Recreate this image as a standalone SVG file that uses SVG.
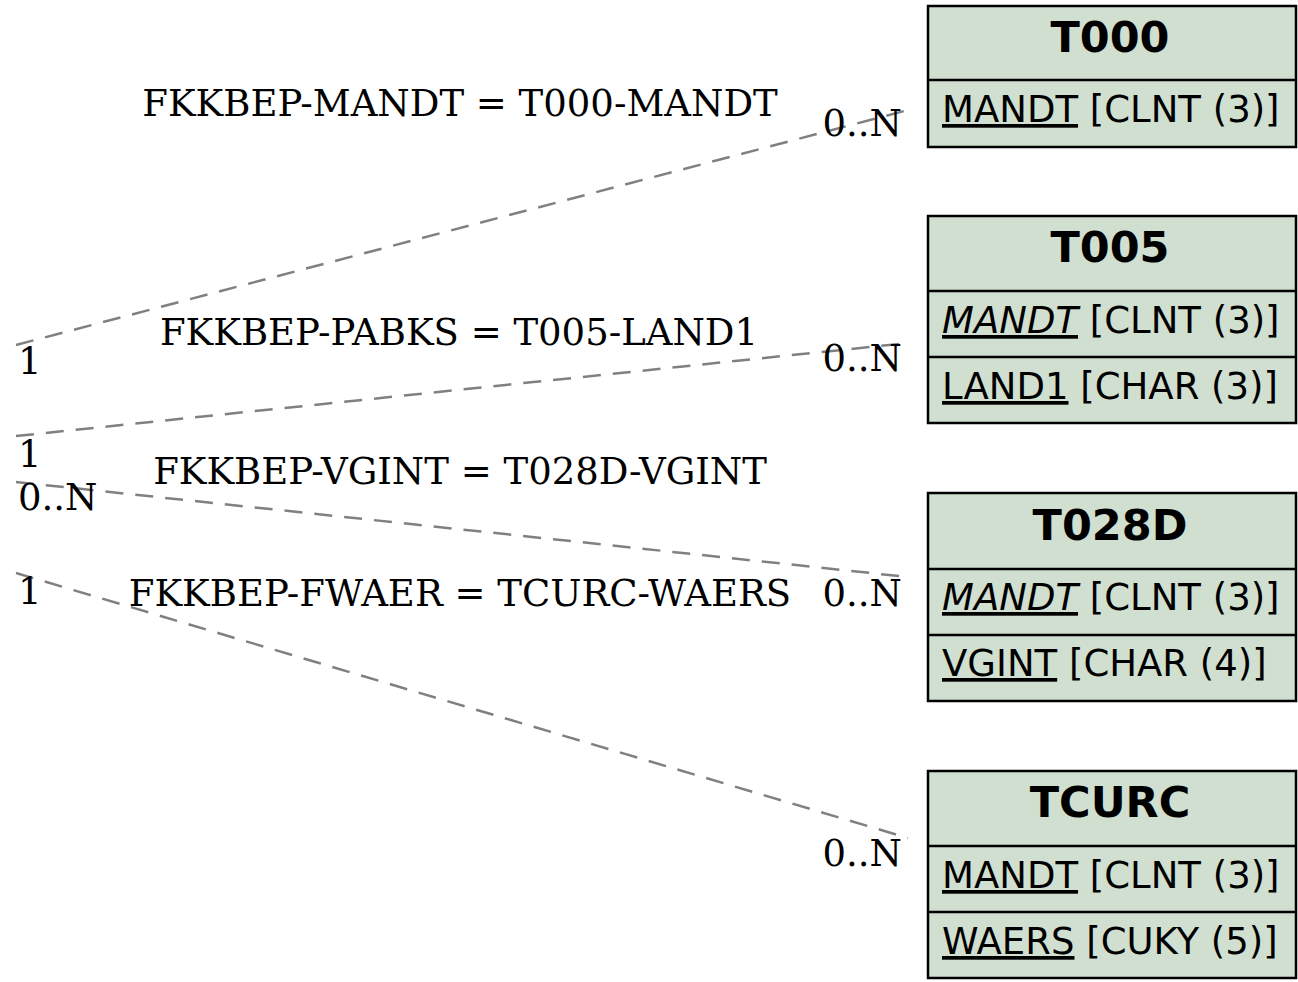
<svg xmlns="http://www.w3.org/2000/svg" width="1298" height="982" viewBox="0 0 1298 982">
<style>
.box{fill:#d0dfd0;stroke:#000;stroke-width:2.5}
.hd{font-family:"DejaVu Sans",sans-serif;font-weight:bold;font-size:43px;text-anchor:middle;fill:#000}
.fd{font-family:"DejaVu Sans",sans-serif;font-size:37px;fill:#000}
.u{text-decoration:underline}
.i{font-style:italic}
.lb{font-family:"DejaVu Serif",serif;font-size:37px;fill:#000}
.cn{fill:none;stroke:#808080;stroke-width:2.5;stroke-dasharray:18,12}
</style>
<rect width="1298" height="982" fill="#fff"/>
<g id="connectors">
<path class="cn" d="M16,345 L908,110"/>
<path class="cn" d="M16,436 L908,343"/>
<path class="cn" d="M16,482 L908,577"/>
<path class="cn" d="M16,573 L908,838"/>
</g>
<g id="labels">
<text class="lb" x="460" y="116" text-anchor="middle">FKKBEP-MANDT = T000-MANDT</text>
<text class="lb" x="902" y="136" text-anchor="end">0..N</text>
<text class="lb" x="18" y="374">1</text>
<text class="lb" x="459" y="345" text-anchor="middle">FKKBEP-PABKS = T005-LAND1</text>
<text class="lb" x="902" y="371" text-anchor="end">0..N</text>
<text class="lb" x="18" y="467">1</text>
<text class="lb" x="18" y="510">0..N</text>
<text class="lb" x="460" y="484" text-anchor="middle">FKKBEP-VGINT = T028D-VGINT</text>
<text class="lb" x="18" y="604">1</text>
<text class="lb" x="460" y="606" text-anchor="middle">FKKBEP-FWAER = TCURC-WAERS</text>
<text class="lb" x="902" y="606" text-anchor="end">0..N</text>
<text class="lb" x="902" y="866" text-anchor="end">0..N</text>
</g>
<g id="T000">
<rect class="box" x="928" y="6" width="368" height="141"/>
<line x1="928" y1="80" x2="1296" y2="80" stroke="#000" stroke-width="2.5"/>
<text class="hd" x="1110" y="52">T000</text>
<text class="fd" x="942" y="122"><tspan class="u">MANDT</tspan> [CLNT (3)]</text>
</g>
<g id="T005">
<rect class="box" x="928" y="216" width="368" height="207"/>
<line x1="928" y1="291" x2="1296" y2="291" stroke="#000" stroke-width="2.5"/>
<line x1="928" y1="357" x2="1296" y2="357" stroke="#000" stroke-width="2.5"/>
<text class="hd" x="1110" y="262">T005</text>
<text class="fd" x="942" y="333"><tspan class="u i">MANDT</tspan> [CLNT (3)]</text>
<text class="fd" x="942" y="399"><tspan class="u">LAND1</tspan> [CHAR (3)]</text>
</g>
<g id="T028D">
<rect class="box" x="928" y="493" width="368" height="208"/>
<line x1="928" y1="569" x2="1296" y2="569" stroke="#000" stroke-width="2.5"/>
<line x1="928" y1="635" x2="1296" y2="635" stroke="#000" stroke-width="2.5"/>
<text class="hd" x="1110" y="540">T028D</text>
<text class="fd" x="942" y="610"><tspan class="u i">MANDT</tspan> [CLNT (3)]</text>
<text class="fd" x="942" y="676"><tspan class="u">VGINT</tspan> [CHAR (4)]</text>
</g>
<g id="TCURC">
<rect class="box" x="928" y="771" width="368" height="207"/>
<line x1="928" y1="846" x2="1296" y2="846" stroke="#000" stroke-width="2.5"/>
<line x1="928" y1="912" x2="1296" y2="912" stroke="#000" stroke-width="2.5"/>
<text class="hd" x="1110" y="817">TCURC</text>
<text class="fd" x="942" y="888"><tspan class="u">MANDT</tspan> [CLNT (3)]</text>
<text class="fd" x="942" y="954"><tspan class="u">WAERS</tspan> [CUKY (5)]</text>
</g>
</svg>
